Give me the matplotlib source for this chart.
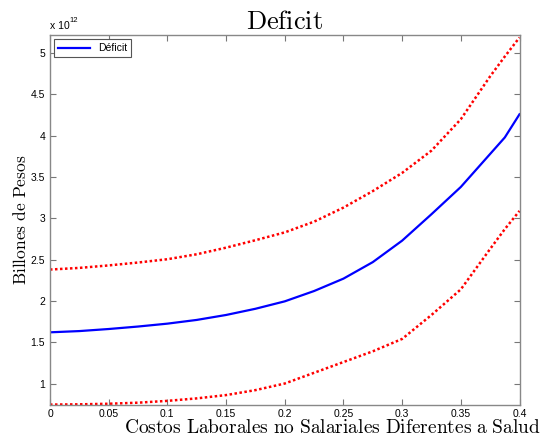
import matplotlib
matplotlib.use('Agg')
import matplotlib.pyplot as plt
import numpy as np

# Datos (en unidades de 1e12 pesos)
costos = [0, 0.025, 0.05, 0.075, 0.1, 0.125, 0.15, 0.175, 0.2,
          0.225, 0.25, 0.275, 0.3, 0.325, 0.35, 0.375, 0.3875, 0.4]
deficit = [1.62, 1.635, 1.66, 1.69, 1.725, 1.77, 1.83, 1.905, 1.995,
           2.12, 2.27, 2.47, 2.73, 3.05, 3.38, 3.78, 3.98, 4.26]
banda_sup = [2.38, 2.40, 2.43, 2.465, 2.505, 2.565, 2.645, 2.735, 2.83,
             2.96, 3.13, 3.33, 3.55, 3.82, 4.2, 4.72, 4.96, 5.19]
banda_inf = [0.745, 0.748, 0.755, 0.768, 0.79, 0.82, 0.86, 0.92, 1.0,
             1.13, 1.26, 1.39, 1.54, 1.83, 2.14, 2.63, 2.87, 3.09]

x_ticks = [0, 0.05, 0.1, 0.15, 0.2, 0.25, 0.3, 0.35, 0.4]
x_tick_labels = ['0', '0.05', '0.1', '0.15', '0.2', '0.25', '0.3', '0.35', '0.4']
y_ticks = [1, 1.5, 2, 2.5, 3, 3.5, 4, 4.5, 5]
y_tick_labels = ['1', '1.5', '2', '2.5', '3', '3.5', '4', '4.5', '5']

plt.rcParams['font.family'] = ['Liberation Sans', 'DejaVu Sans']
plt.rcParams['mathtext.fontset'] = 'cm'

fig = plt.figure(figsize=(5.42, 4.4), dpi=100)
ax = fig.add_axes([50/542, 1-404.5/440, (519.5-50)/542, (404.5-35)/440])

ax.plot(costos, deficit, color='#0000ff', lw=1.6, label='Déficit')
ax.plot(costos, banda_sup, color='#ff0000', lw=1.8, linestyle=(0, (1, 1)))
ax.plot(costos, banda_inf, color='#ff0000', lw=1.8, linestyle=(0, (1, 1)))

ax.set_xlim(0, 0.4)
ax.set_ylim(0.746, 5.22)
ax.set_xticks(x_ticks)
ax.set_xticklabels(x_tick_labels)
ax.set_yticks(y_ticks)
ax.set_yticklabels(y_tick_labels)
ax.tick_params(direction='in', top=True, right=True, length=4, labelsize=7.5,
               color='#777777', width=0.8)
for s in ax.spines.values():
    s.set_color('#888888')
    s.set_linewidth(1)

ax.text(0, 1.012, 'x 10', transform=ax.transAxes, fontsize=7.5,
        ha='left', va='bottom')
ax.text(0.041, 1.03, '12', transform=ax.transAxes, fontsize=5.5,
        ha='left', va='bottom')

ax.set_title(r'$\mathrm{Deficit}$', fontsize=19, pad=4)
ax.set_ylabel(r'$\mathrm{Billones\ de\ Pesos}$', fontsize=12.5)
ax.yaxis.set_label_coords(-0.045, 0.5)
fig.text(0.998, 1-428/440, r'$\mathrm{Costos\ Laborales\ no\ Salariales\ Diferentes\ a\ Salud}$',
         fontsize=14, ha='right', va='center')

leg = ax.legend(loc='upper left', fontsize=7.5, fancybox=False, framealpha=1,
                borderpad=0.4, handlelength=3.0, borderaxespad=0.4)
leg.get_frame().set_edgecolor('#555555')
leg.get_frame().set_linewidth(0.8)

fig.savefig('out.png', dpi=100)
